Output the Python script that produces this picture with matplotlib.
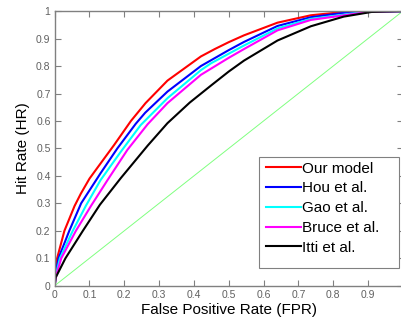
import numpy as np
import matplotlib
matplotlib.use("Agg")
import matplotlib.pyplot as plt
from matplotlib.patches import Rectangle

plt.rcParams['font.family'] = ['Liberation Sans', 'DejaVu Sans']

# ROC curves
ours_x = [0, 0.002, 0.007, 0.028, 0.057, 0.075, 0.10, 0.123, 0.171, 0.219, 0.261, 0.324, 0.42, 0.46, 0.50, 0.544, 0.64, 0.736, 0.83, 0.9, 1.0]
ours_y = [0, 0.05, 0.10, 0.20, 0.29, 0.335, 0.39, 0.43, 0.513, 0.60, 0.665, 0.747, 0.835, 0.862, 0.887, 0.912, 0.958, 0.985, 0.997, 1.0, 1.0]

hou_x = [0, 0.003, 0.011, 0.042, 0.076, 0.132, 0.18, 0.233, 0.26, 0.324, 0.42, 0.5, 0.544, 0.64, 0.736, 0.85, 1.0]
hou_y = [0, 0.05, 0.10, 0.20, 0.30, 0.41, 0.50, 0.59, 0.63, 0.707, 0.80, 0.858, 0.888, 0.946, 0.978, 0.997, 1.0]

gao_x = [0, 0.004, 0.015, 0.052, 0.09, 0.132, 0.19, 0.247, 0.324, 0.42, 0.449, 0.5, 0.544, 0.64, 0.736, 0.89, 1.0]
gao_y = [0, 0.04, 0.10, 0.20, 0.292, 0.385, 0.488, 0.585, 0.683, 0.785, 0.81, 0.845, 0.875, 0.937, 0.972, 0.997, 1.0]

bruce_x = [0, 0.005, 0.019, 0.061, 0.105, 0.152, 0.209, 0.267, 0.324, 0.42, 0.5, 0.544, 0.64, 0.736, 0.9, 1.0]
bruce_y = [0, 0.04, 0.10, 0.20, 0.292, 0.385, 0.495, 0.588, 0.665, 0.768, 0.83, 0.862, 0.93, 0.968, 0.997, 1.0]

itti_x = [0, 0.003, 0.031, 0.081, 0.13, 0.19, 0.267, 0.324, 0.388, 0.45, 0.5, 0.544, 0.64, 0.736, 0.83, 0.91, 1.0]
itti_y = [0, 0.03, 0.10, 0.20, 0.295, 0.392, 0.51, 0.592, 0.667, 0.73, 0.78, 0.82, 0.893, 0.945, 0.98, 0.997, 1.0]

chance = [0, 1]

labels = ["Our model", "Hou et al.", "Gao et al.", "Bruce et al.", "Itti et al."]
colors = ["#ff0000", "#0000ff", "#00ffff", "#ff00ff", "#000000"]

fig = plt.figure(figsize=(4.02, 3.23), dpi=100)
ax = fig.add_axes([0.136, 0.1155, 0.866, 0.85])

ax.plot(chance, chance, color="#80ff80", lw=0.7)
series = [(ours_x, ours_y), (hou_x, hou_y), (gao_x, gao_y), (bruce_x, bruce_y), (itti_x, itti_y)]
handles = []
for (xs, ys), lab, c in zip(series, labels, colors):
    h, = ax.plot(xs, ys, color=c, lw=1.5, label=lab)
    handles.append(h)

ax.set_xlim(0, 1)
ax.set_ylim(0, 1)
ax.set_xticks(np.arange(0, 1.0, 0.1))
ax.set_xticklabels(["0", "0.1", "0.2", "0.3", "0.4", "0.5", "0.6", "0.7", "0.8", "0.9"])
ax.set_yticks(np.arange(0, 1.01, 0.1))
ax.set_yticklabels(["0", "0.1", "0.2", "0.3", "0.4", "0.5", "0.6", "0.7", "0.8", "0.9", "1"])

gray = "#808080"
for s in ax.spines.values():
    s.set_color(gray)
    s.set_linewidth(1.0)
ax.tick_params(direction="in", top=True, right=True, length=4, width=0.8,
               color=gray, labelcolor="#606060", labelsize=7.5, pad=3)

ax.set_xlabel("False Positive Rate (FPR)", fontsize=11, labelpad=2)
ax.set_ylabel("Hit Rate (HR)", fontsize=11, labelpad=4)

# MATLAB-style legend box: wide frame with extra room on the right
box = Rectangle((0.5865, 0.0637), 0.4025, 0.404, transform=ax.transAxes,
                facecolor="white", edgecolor=gray, lw=0.8, zorder=4)
ax.add_patch(box)
leg = ax.legend(handles=handles, loc="upper left", bbox_to_anchor=(0.6067, 0.452),
                borderaxespad=0, frameon=False, fontsize=11, handlelength=2.3,
                handletextpad=0.05, labelspacing=0.38, borderpad=0)
leg.set_zorder(5)

fig.savefig("out.png", dpi=100)
